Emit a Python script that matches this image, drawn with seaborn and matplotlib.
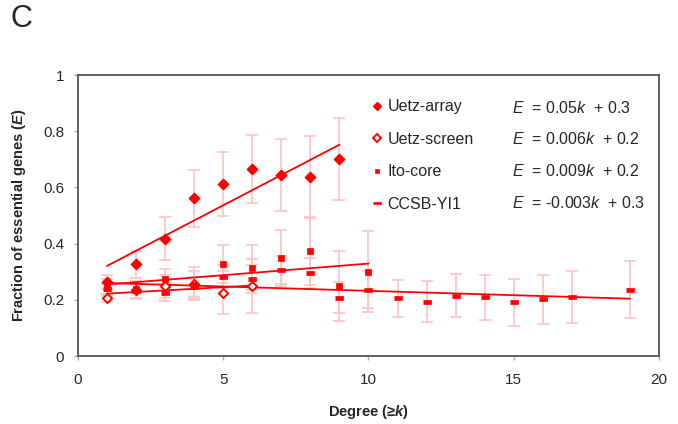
import numpy as np
import pandas as pd
import matplotlib
matplotlib.use('Agg')
import matplotlib.pyplot as plt
import seaborn as sns
from matplotlib.lines import Line2D

# values
k_array = [1, 2, 3, 4, 5, 6, 7, 8, 9]
e_array = [0.264, 0.327, 0.418, 0.561, 0.612, 0.666, 0.644, 0.637, 0.701]
err_array = [0.026, 0.048, 0.076, 0.100, 0.115, 0.122, 0.128, 0.145, 0.145]

k_screen = [1, 2, 3, 4, 5, 6]
e_screen = [0.206, 0.234, 0.248, 0.258, 0.226, 0.249]
err_screen = [0.015, 0.030, 0.040, 0.060, 0.077, 0.095]

k_ito = [1, 2, 3, 4, 5, 6, 7, 8, 9, 10]
e_ito = [0.243, 0.238, 0.276, 0.252, 0.327, 0.314, 0.348, 0.374, 0.249, 0.301]
err_ito = [0.030, 0.030, 0.035, 0.050, 0.067, 0.080, 0.100, 0.120, 0.125, 0.144]

k_ccsb = [1, 2, 3, 4, 5, 6, 7, 8, 9, 10, 11, 12, 13, 14, 15, 16, 17, 19]
e_ccsb = [0.238, 0.232, 0.225, 0.245, 0.283, 0.274, 0.305, 0.296, 0.208,
          0.237, 0.206, 0.194, 0.215, 0.209, 0.191, 0.202, 0.211, 0.236]
err_ccsb = [0.020, 0.025, 0.030, 0.035, 0.040, 0.050, 0.050, 0.054, 0.056,
            0.065, 0.065, 0.072, 0.077, 0.080, 0.085, 0.088, 0.093, 0.102]

names = ['Uetz-array', 'Uetz-screen', 'Ito-core', 'CCSB-YI1']
equations = [r'$\it{E}$  = 0.05$\it{k}$  + 0.3',
             r'$\it{E}$  = 0.006$\it{k}$  + 0.2',
             r'$\it{E}$  = 0.009$\it{k}$  + 0.2',
             r'$\it{E}$  = -0.003$\it{k}$  + 0.3']

sns.set_theme(style='white')
plt.rcParams['font.family'] = ['Liberation Sans', 'DejaVu Sans']
plt.rcParams['mathtext.fontset'] = 'custom'
plt.rcParams['mathtext.rm'] = 'Liberation Sans'
plt.rcParams['mathtext.it'] = 'Liberation Sans:italic'
plt.rcParams['mathtext.bf'] = 'Liberation Sans:bold'
plt.rcParams['mathtext.bfit'] = 'Liberation Sans:italic:bold'

red = '#ff0000'
pink = '#ffc4c4'
bar_marker = [(-1, -0.4), (1, -0.4), (1, 0.4), (-1, 0.4)]

series = [
    (k_array, e_array, err_array, dict(marker='D', s=28, color=red, edgecolor=red, linewidth=1)),
    (k_screen, e_screen, err_screen, dict(marker='D', s=22, color='white', edgecolor=red, linewidth=1.4)),
    (k_ito, e_ito, err_ito, dict(marker='s', s=13, color=red, edgecolor=red, linewidth=0.5)),
    (k_ccsb, e_ccsb, err_ccsb, dict(marker=bar_marker, s=40, color=red, edgecolor=red, linewidth=0.5)),
]

fig, ax = plt.subplots(figsize=(6.78, 4.24), dpi=100)
fig.subplots_adjust(left=0.115, right=0.972, top=0.823, bottom=0.160)

# error bars first so they sit behind everything
for k, e, err, _ in series:
    ax.errorbar(k, e, yerr=err, fmt='none', ecolor=pink, elinewidth=1.2,
                capsize=4, capthick=1.2, zorder=1)

# linear fits
for k, e, err, _ in series:
    df = pd.DataFrame({'k': k, 'E': e})
    sns.regplot(data=df, x='k', y='E', scatter=False, ci=None, truncate=True,
                ax=ax, line_kws=dict(color=red, lw=1.3, zorder=2))

# markers
for k, e, err, kw in series:
    df = pd.DataFrame({'k': k, 'E': e})
    sns.scatterplot(data=df, x='k', y='E', ax=ax, zorder=3, **kw)

ax.set_xlim(0, 20)
ax.set_ylim(0, 1)
ax.set_xticks([0, 5, 10, 15, 20])
ax.set_yticks([0, 0.2, 0.4, 0.6, 0.8, 1])
ax.set_yticklabels(['0', '0.2', '0.4', '0.6', '0.8', '1'])
ax.tick_params(axis='both', which='major', labelsize=11, length=3, width=1,
               direction='out', color='#aaaaaa', bottom=True, left=True)
ax.tick_params(axis='x', pad=9)
ax.tick_params(axis='y', pad=7)
for sp in ax.spines.values():
    sp.set_color('#555555')
    sp.set_linewidth(1.3)

ax.set_xlabel(r'Degree (≥$\mathbfit{k}$)', fontsize=10.5, fontweight='bold', labelpad=12)
ax.set_ylabel(r'Fraction of essential genes ($\mathbfit{E}$)', fontsize=10.5,
              fontweight='bold', labelpad=11)

# legend: markers only
handles = []
for name, (k, e, err, kw) in zip(names, series):
    h = Line2D([], [], linestyle='none', marker=kw['marker'], markerfacecolor=kw['color'],
               markeredgecolor=red, markersize=np.sqrt(kw['s']) * 0.85,
               markeredgewidth=kw['linewidth'], label=name)
    handles.append(h)
ax.legend(handles=handles, loc='upper left', bbox_to_anchor=(0.482, 0.965),
          frameon=False, fontsize=11.5, handlelength=0.6, handletextpad=0.35,
          labelspacing=1.1)

row_y = [0.884, 0.771, 0.658, 0.545]
for y, eq in zip(row_y, equations):
    ax.text(0.747, y, eq, transform=ax.transAxes, fontsize=11.5, va='center', ha='left')

fig.text(0.016, 0.955, 'C', fontsize=22, ha='left', va='center')

fig.savefig('out.png', dpi=100)
